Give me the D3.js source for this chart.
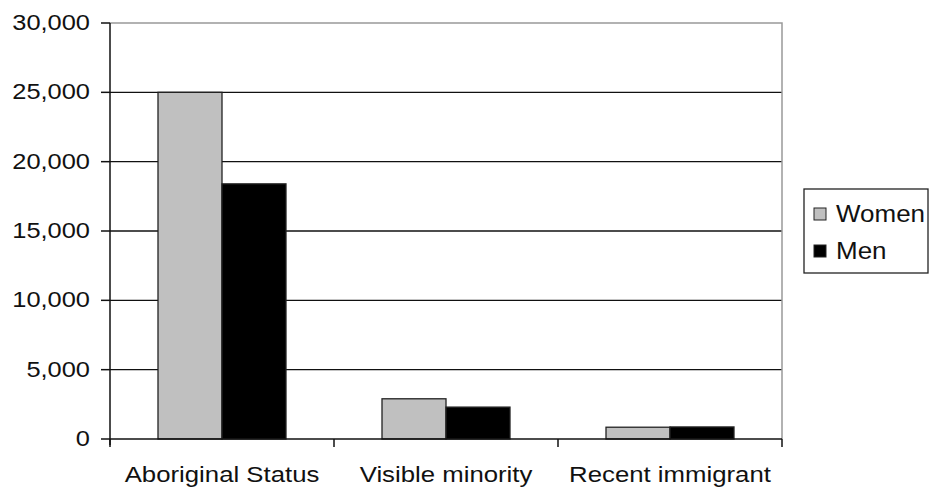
<!DOCTYPE html>
<html>
<head>
<meta charset="utf-8">
<script src="https://cdn.jsdelivr.net/npm/d3@7"></script>
<style>
  html, body { margin: 0; padding: 0; background: #fff; }
  svg { display: block; }
  text { font-family: "Liberation Sans", Arial, sans-serif; fill: #111; }
</style>
</head>
<body>
<svg id="chart" width="931" height="491"></svg>
<script>
// Counts by group and sex
const categories = ["Aboriginal Status", "Visible minority", "Recent immigrant"];
const seriesNames = ["Women", "Men"];
const women = [25000, 2900, 850];
const men = [18400, 2300, 870];
const yTicks = [0, 5000, 10000, 15000, 20000, 25000, 30000];

const colors = { Women: "#c0c0c0", Men: "#000000" };
const values = { Women: women, Men: men };

const svg = d3.select("#chart");
const plotLeft = 110, plotRight = 782, plotTop = 23, plotBottom = 439;
const stretch = 1.13;

const x0 = d3.scaleBand().domain(categories).range([plotLeft, plotRight]).paddingInner(0).paddingOuter(0);
const x1 = d3.scaleBand().domain(seriesNames).range([0, x0.bandwidth()]).paddingInner(0).paddingOuter(0.75);
const y = d3.scaleLinear().domain([0, 30000]).range([plotBottom, plotTop]);

// horizontally stretched text
function label(g, tx, ty, str, anchor, size) {
  g.append("text")
    .attr("transform", `translate(${tx},${ty}) scale(${stretch},1)`)
    .attr("text-anchor", anchor)
    .attr("font-size", size)
    .text(str);
}

// gridlines
svg.append("g").selectAll("line").data(yTicks.filter(t => t > 0 && t < 30000)).join("line")
  .attr("x1", plotLeft).attr("x2", plotRight)
  .attr("y1", d => y(d)).attr("y2", d => y(d))
  .attr("stroke", "#111").attr("stroke-width", 1.3);

// plot frame top & right
svg.append("path")
  .attr("d", `M${plotLeft},${y(30000)}H${plotRight}V${plotBottom}`)
  .attr("fill", "none").attr("stroke", "#999").attr("stroke-width", 1.5);

// bars
const g = svg.append("g");
categories.forEach((c, i) => {
  seriesNames.forEach(s => {
    const v = values[s][i];
    g.append("rect")
      .attr("x", x0(c) + x1(s))
      .attr("y", y(v))
      .attr("width", x1.bandwidth())
      .attr("height", y(0) - y(v))
      .attr("fill", colors[s])
      .attr("stroke", "#222").attr("stroke-width", 1.3);
  });
});

// y axis
const yAxis = svg.append("g");
yAxis.append("line").attr("x1", plotLeft).attr("x2", plotLeft).attr("y1", plotTop).attr("y2", plotBottom + 6)
  .attr("stroke", "#111").attr("stroke-width", 1.5);
yTicks.forEach(t => {
  yAxis.append("line").attr("x1", plotLeft - 9).attr("x2", plotLeft).attr("y1", y(t)).attr("y2", y(t))
    .attr("stroke", "#111").attr("stroke-width", 1.5);
  label(yAxis, 90, y(t) + 7, d3.format(",")(t), "end", "22.5px");
});

// x axis
const xAxis = svg.append("g");
xAxis.append("line").attr("x1", plotLeft).attr("x2", plotRight).attr("y1", plotBottom).attr("y2", plotBottom)
  .attr("stroke", "#111").attr("stroke-width", 1.5);
[...categories.map(c => x0(c)), plotRight].forEach(px => {
  xAxis.append("line").attr("x1", px).attr("x2", px).attr("y1", plotBottom).attr("y2", plotBottom + 8)
    .attr("stroke", "#111").attr("stroke-width", 1.5);
});
categories.forEach(c => {
  label(xAxis, x0(c) + x0.bandwidth() / 2, 482, c, "middle", "22.8px");
});

// legend
const lg = svg.append("g");
lg.append("rect").attr("x", 804).attr("y", 189).attr("width", 124).attr("height", 84)
  .attr("fill", "#fff").attr("stroke", "#222").attr("stroke-width", 1.3);
seriesNames.forEach((s, i) => {
  const cy = 214 + i * 37;
  lg.append("rect").attr("x", 814).attr("y", cy - 6).attr("width", 12).attr("height", 12)
    .attr("fill", colors[s]).attr("stroke", "#222").attr("stroke-width", 1);
  label(lg, 836, cy + 8, s, "start", "23px");
});
</script>
</body>
</html>
